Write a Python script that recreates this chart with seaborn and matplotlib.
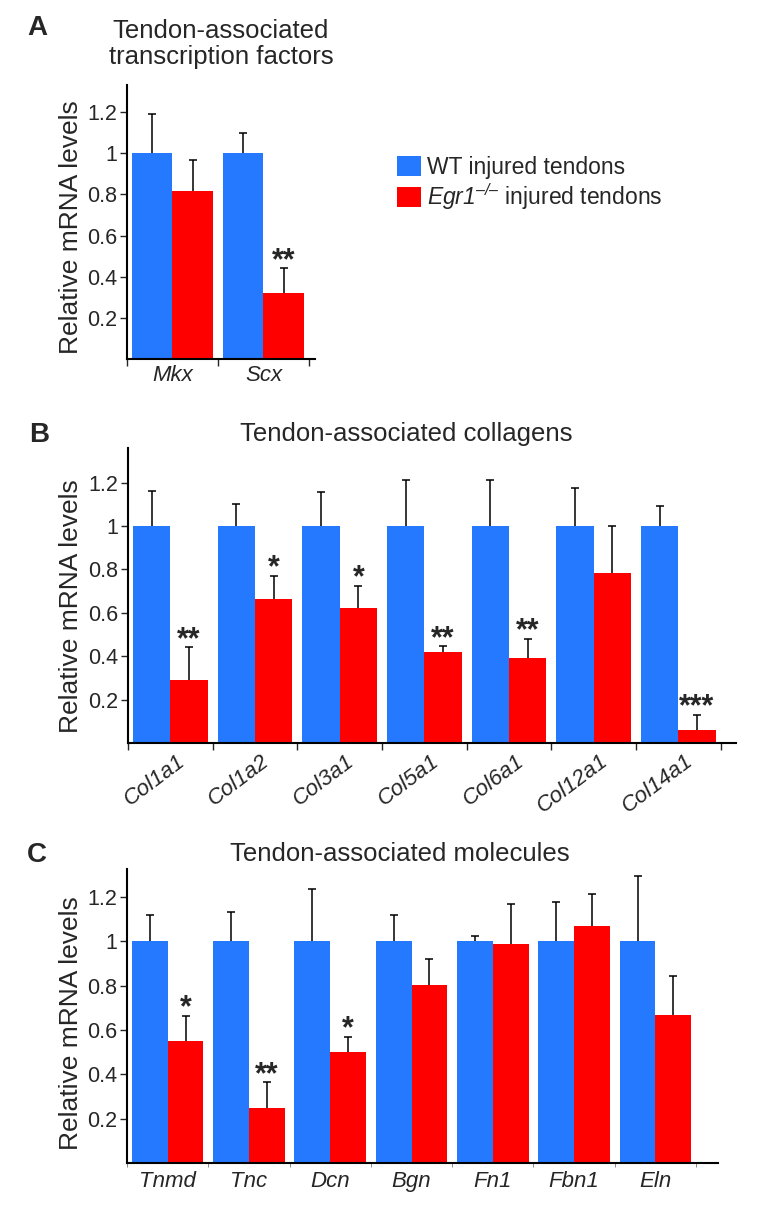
import matplotlib

matplotlib.use("Agg")
import matplotlib.pyplot as plt
import matplotlib.ticker as mticker
import matplotlib.transforms as mtransforms
import pandas as pd
import seaborn as sns

# values (relative mRNA levels, upper SEM)
genes_a = ["Mkx", "Scx"]
wt_a = [1.0, 1.0]
wt_err_a = [0.19, 0.10]
ko_a = [0.815, 0.32]
ko_err_a = [0.15, 0.12]
stars_a = ["", "**"]

genes_b = ["Col1a1", "Col1a2", "Col3a1", "Col5a1", "Col6a1", "Col12a1", "Col14a1"]
wt_b = [1.0, 1.0, 1.0, 1.0, 1.0, 1.0, 1.0]
wt_err_b = [0.16, 0.10, 0.155, 0.21, 0.21, 0.175, 0.09]
ko_b = [0.29, 0.665, 0.62, 0.42, 0.39, 0.785, 0.06]
ko_err_b = [0.15, 0.105, 0.105, 0.025, 0.09, 0.215, 0.07]
stars_b = ["**", "*", "*", "**", "**", "", "***"]

genes_c = ["Tnmd", "Tnc", "Dcn", "Bgn", "Fn1", "Fbn1", "Eln"]
wt_c = [1.0, 1.0, 1.0, 1.0, 1.0, 1.0, 1.0]
wt_err_c = [0.12, 0.135, 0.235, 0.12, 0.025, 0.18, 0.295]
ko_c = [0.55, 0.25, 0.50, 0.805, 0.99, 1.07, 0.67]
ko_err_c = [0.115, 0.115, 0.07, 0.115, 0.18, 0.145, 0.175]
stars_c = ["*", "**", "*", "", "", "", ""]

groups = ["WT injured tendons", "$\\mathrm{Egr1}^{\\mathrm{\u2013/\u2013}}$ injured tendons"]
y_ticks = [0.2, 0.4, 0.6, 0.8, 1.0, 1.2]

BLUE = "#2479ff"
RED = "#ff0000"

sns.set_theme(style="white")
plt.rcParams["font.family"] = ["Liberation Sans", "DejaVu Sans"]
# only the legend label uses mathtext: render it in italic Liberation Sans
plt.rcParams["mathtext.fontset"] = "custom"
plt.rcParams["mathtext.rm"] = "Liberation Sans:italic"
plt.rcParams["mathtext.it"] = "Liberation Sans:italic"

W, H = 759, 1211
fig = plt.figure(figsize=(W / 100, H / 100), dpi=100)


def px_axes(left, top, right, bottom):
    return fig.add_axes([left / W, 1 - bottom / H, (right - left) / W, (bottom - top) / H])


def long_form(genes, wt, ko):
    return pd.DataFrame(
        {
            "gene": genes + genes,
            "group": [groups[0]] * len(genes) + [groups[1]] * len(genes),
            "value": wt + ko,
        }
    )


def draw_panel(ax, genes, wt, wt_err, ko, ko_err, stars, ymax, xmax, show_legend=False):
    df = long_form(genes, wt, ko)
    sns.barplot(
        data=df,
        x="gene",
        y="value",
        hue="group",
        hue_order=groups,
        palette=[BLUE, RED],
        saturation=1,
        width=0.88,
        errorbar=None,
        edgecolor="none",
        legend=show_legend,
        ax=ax,
    )
    for container, errs in zip(ax.containers, [wt_err, ko_err]):
        xs = [b.get_x() + b.get_width() / 2 for b in container]
        hs = [b.get_height() for b in container]
        _, caps, _ = ax.errorbar(
            xs, hs, yerr=[[0] * len(errs), errs], fmt="none",
            ecolor="black", elinewidth=1.1, capsize=3, capthick=1.1, zorder=1,
        )
        # upper error only: hide the cap sitting on the bar top
        caps[0].set_visible(False)
    ko_bars = ax.containers[1]
    for bar, e, s in zip(ko_bars, ko_err, stars):
        if s:
            ax.annotate(
                s, (bar.get_x() + bar.get_width() / 2, bar.get_height() + e),
                xytext=(0, -0.5), textcoords="offset points",
                ha="center", va="baseline", fontsize=22, fontweight="bold",
            )

    ax.set_ylim(0, ymax)
    ax.set_xlim(-0.5, xmax)
    ax.set_yticks(y_ticks)
    ax.yaxis.set_major_formatter(mticker.FuncFormatter(lambda v, p: f"{v:g}"))
    ax.set_xticks([i + 0.5 for i in range(-1, len(genes))], minor=True)
    ax.tick_params(axis="y", direction="out", length=5, width=1, labelsize=15.5, pad=2, left=True)
    ax.tick_params(axis="x", which="major", length=0, labelsize=16, pad=4)
    ax.tick_params(axis="x", which="minor", direction="out", length=5, width=1, bottom=True)
    for lab in ax.get_xticklabels():
        lab.set_fontstyle("italic")
    ax.set_xlabel("")
    ax.set_ylabel("Relative mRNA levels", fontsize=19)
    sns.despine(ax=ax)
    for side in ["left", "bottom"]:
        ax.spines[side].set_linewidth(1.5)
        ax.spines[side].set_color("black")


# panel A
ax_a = px_axes(127, 85, 315, 359)
draw_panel(ax_a, genes_a, wt_a, wt_err_a, ko_a, ko_err_a, stars_a, 1.332, 1.566, show_legend=True)
ax_a.yaxis.set_label_coords(-0.234, 0.483)
handles, labels = ax_a.get_legend_handles_labels()
ax_a.legend(
    handles, labels, loc="upper left", bbox_to_anchor=(397 / W, 1 - 156 / H),
    bbox_transform=fig.transFigure, frameon=False, fontsize=16.5,
    handlelength=1.05, handleheight=0.95, handletextpad=0.25,
    labelspacing=0.1, borderpad=0, borderaxespad=0,
)
fig.text(221 / W, 1 - 64 / H, "Tendon-associated\ntranscription factors",
         ha="center", va="baseline", fontsize=18.5, linespacing=1.12)
fig.text(27 / W, 1 - 35 / H, "A", fontsize=20, fontweight="heavy", va="baseline")

# panel B
ax_b = px_axes(128, 448, 736, 743)
draw_panel(ax_b, genes_b, wt_b, wt_err_b, ko_b, ko_err_b, stars_b, 1.359, 6.68)
ax_b.yaxis.set_label_coords(-0.074, 0.463)
shift = mtransforms.ScaledTranslation(6 / 100, -2 / 100, fig.dpi_scale_trans)
for lab in ax_b.get_xticklabels():
    lab.set_rotation(37)
    lab.set_ha("right")
    lab.set_va("top")
    lab.set_rotation_mode("anchor")
    lab.set_fontsize(16)
    lab.set_transform(lab.get_transform() + shift)
fig.text(406 / W, 1 - 441 / H, "Tendon-associated collagens", ha="center", va="baseline", fontsize=18.5)
fig.text(29 / W, 1 - 442 / H, "B", fontsize=20, fontweight="heavy", va="baseline")

# panel C
ax_c = px_axes(127, 869, 718, 1163)
draw_panel(ax_c, genes_c, wt_c, wt_err_c, ko_c, ko_err_c, stars_c, 1.327, 6.77)
ax_c.yaxis.set_label_coords(-0.0745, 0.476)
ax_c.tick_params(axis="x", which="minor", length=3, width=0.6, color="#777777")
ax_c.tick_params(axis="x", which="major", pad=6)
fig.text(400 / W, 1 - 861 / H, "Tendon-associated molecules", ha="center", va="baseline", fontsize=18.5)
fig.text(27 / W, 1 - 862 / H, "C", fontsize=20, fontweight="heavy", va="baseline")

fig.savefig("out.png", dpi=100)
